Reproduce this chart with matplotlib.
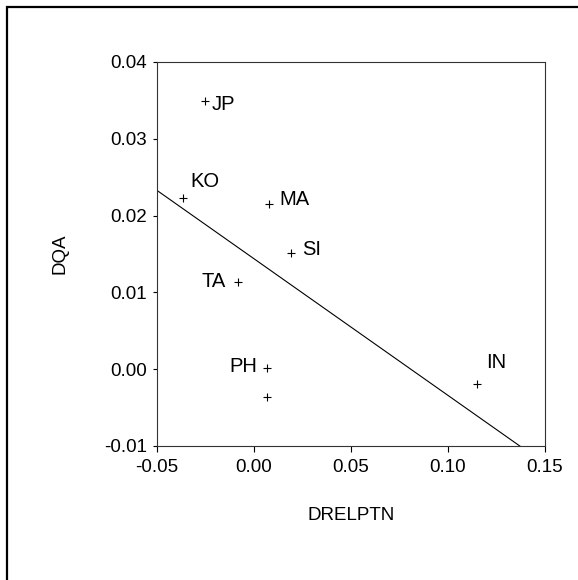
import numpy as np
import matplotlib
matplotlib.use("Agg")
import matplotlib.pyplot as plt
from matplotlib.patches import Rectangle

plt.rcParams["font.family"] = ["Liberation Sans", "DejaVu Sans"]

# Data
countries = ["JP", "KO", "MA", "SI", "TA", "PH", "", "IN"]
drelptn = [-0.0253, -0.0364, 0.0077, 0.0189, -0.0081, 0.0069, 0.0069, 0.1151]
dqa = [0.0349, 0.0223, 0.0215, 0.0151, 0.0113, 0.0002, -0.0036, -0.0019]

x_ticks = [-0.05, 0.00, 0.05, 0.10, 0.15]
x_tick_labels = ["-0.05", "0.00", "0.05", "0.10", "0.15"]
y_ticks = [-0.01, 0.00, 0.01, 0.02, 0.03, 0.04]
y_tick_labels = ["-0.01", "0.00", "0.01", "0.02", "0.03", "0.04"]

# label offsets in pixels (dx, dy, ha)
label_offsets = {
    "JP": (7, -3, "left"),
    "KO": (7, 16, "left"),
    "MA": (10, 5, "left"),
    "SI": (11, 4, "left"),
    "TA": (-13, 1, "right"),
    "PH": (-10, 1.5, "right"),
    "IN": (9, 21.5, "left"),
}

W, H = 578, 580
fig = plt.figure(figsize=(W / 100, H / 100), dpi=100)

# outer frame (only top and left edges are visible in the image)
fig.patches.append(Rectangle((6.5 / W, -0.1), 1.2, (H - 6.5) / H + 0.1,
                             transform=fig.transFigure, fill=False,
                             edgecolor="black", linewidth=1.6))

ax = fig.add_axes([157 / W, 1 - 446 / H, 388 / W, 384 / H])

ax.plot(drelptn, dqa, linestyle="none", marker="+", markersize=6,
        markeredgewidth=0.8, color="black")

# fitted line
slope, intercept = np.polyfit(drelptn, dqa, 1)
xs = np.array([x_ticks[0], x_ticks[-1]])
ax.plot(xs, intercept + slope * xs, color="black", linewidth=0.8)

for name, x, y in zip(countries, drelptn, dqa):
    if not name:
        continue
    dx, dy, ha = label_offsets[name]
    ax.annotate(name, (x, y), xytext=(dx * 0.72, dy * 0.72),
                textcoords="offset points", ha=ha, va="center", fontsize=14.5)

ax.set_xlim(x_ticks[0], x_ticks[-1])
ax.set_ylim(y_ticks[0], y_ticks[-1])
ax.set_xticks(x_ticks)
ax.set_xticklabels(x_tick_labels)
ax.set_yticks(y_ticks)
ax.set_yticklabels(y_tick_labels)
ax.tick_params(axis="x", direction="out", length=4.5, width=0.8, pad=5, labelsize=13.5)
ax.tick_params(axis="y", direction="out", length=3, width=0.8, pad=4, labelsize=13.5)
for sp in ax.spines.values():
    sp.set_linewidth(0.8)
    sp.set_color("#333333")

ax.set_xlabel("DRELPTN", fontsize=13.5, va="center")
ax.xaxis.set_label_coords(0.5, (446 - 516) / 384)
ax.set_ylabel("DQA", fontsize=13.5, va="center")
ax.yaxis.set_label_coords((59.5 - 157) / 388, 0.5)

fig.savefig("out.png", dpi=100)
